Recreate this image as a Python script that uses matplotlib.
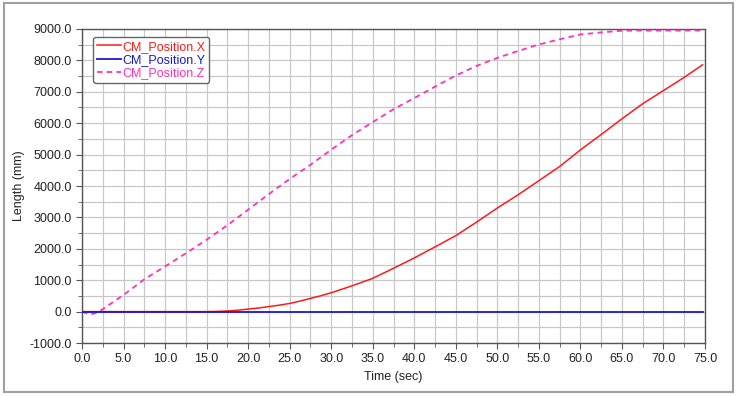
import matplotlib.pyplot as plt
from matplotlib.ticker import MultipleLocator, FormatStrFormatter
from matplotlib.patches import Rectangle

plt.rcParams['font.family'] = ['Liberation Sans', 'DejaVu Sans']

# values
t_x = [0, 15, 16.5, 17.5, 18.75, 20, 21.25, 22.5, 23.75, 25, 26.25, 27.5, 28.75, 30,
       32.5, 35, 37.5, 40, 42.5, 45, 47.5, 50, 52.5, 55, 57.5, 60, 62.5, 65, 67.5,
       70, 72.5, 74.7]
pos_x = [0, 0, 8, 20, 45, 80, 115, 160, 205, 260, 335, 420, 505, 600,
         820, 1060, 1380, 1710, 2060, 2420, 2850, 3300, 3720, 4170, 4620, 5150, 5640,
         6140, 6620, 7040, 7460, 7860]

t_y = [0, 74.7]
pos_y = [0, 0]

t_z = [0, 0.5, 1, 1.5, 2, 2.5, 5, 7.5, 10, 12.5, 15, 17.5, 20, 22.5, 25, 27.5, 30,
       32.5, 35, 37.5, 40, 42.5, 45, 47.5, 50, 52.5, 55, 57.5, 60, 62.5, 65, 67.5,
       70, 72.5, 74.7]
pos_z = [0, -50, -80, -60, 0, 80, 530, 1030, 1440, 1855, 2290, 2750, 3245, 3745, 4225,
         4675, 5155, 5620, 6035, 6446, 6800, 7165, 7518, 7825, 8080, 8300, 8506, 8672,
         8825, 8892, 8945, 8950, 8950, 8950, 8950]

c_x = '#ff1a1a'
c_y = '#1a1acc'
c_z = '#ff2fbf'

fig = plt.figure(figsize=(7.37, 3.96), dpi=100)
fig.patches.append(Rectangle((0.005, 0.01), 0.99, 0.982, transform=fig.transFigure,
                             fill=False, edgecolor='#a0a0a0', linewidth=1.5))
ax = fig.add_axes([0.1113, 0.1338, 0.8453, 0.793])

ax.plot(t_x, pos_x, color=c_x, lw=1.1, label='CM_Position.X', zorder=3)
ax.plot(t_y, pos_y, color=c_y, lw=1.3, label='CM_Position.Y', zorder=4)
ax.plot(t_z, pos_z, color=c_z, lw=1.3, dashes=(3, 2.4), label='CM_Position.Z', zorder=3)

ax.set_xlim(0, 75)
ax.set_ylim(-1000, 9000)
ax.xaxis.set_major_locator(MultipleLocator(5))
ax.xaxis.set_minor_locator(MultipleLocator(2.5))
ax.yaxis.set_major_locator(MultipleLocator(1000))
ax.yaxis.set_minor_locator(MultipleLocator(500))
ax.xaxis.set_major_formatter(FormatStrFormatter('%.1f'))
ax.yaxis.set_major_formatter(FormatStrFormatter('%.1f'))
ax.grid(which='both', color='#c8c8c8', lw=0.9)
ax.set_axisbelow(True)
ax.tick_params(which='major', length=4, color='#555555', labelsize=9, labelcolor='#222222')
ax.tick_params(which='minor', length=3, color='#555555')
for s in ax.spines.values():
    s.set_color('#555555')
    s.set_linewidth(1.0)

ax.set_xlabel('Time (sec)', fontsize=9, color='#222222')
ax.set_ylabel('Length (mm)', fontsize=9, color='#222222', labelpad=3)

leg = ax.legend(loc='upper left', bbox_to_anchor=(0.0177, 0.9745), borderaxespad=0,
                fontsize=9, labelspacing=0.1, handlelength=1.9, handletextpad=0.15,
                borderpad=0.3, fancybox=True, framealpha=1, edgecolor='#666666')
for txt, c in zip(leg.get_texts(), [c_x, c_y, c_z]):
    txt.set_color(c)

fig.savefig('out.png', dpi=100)
